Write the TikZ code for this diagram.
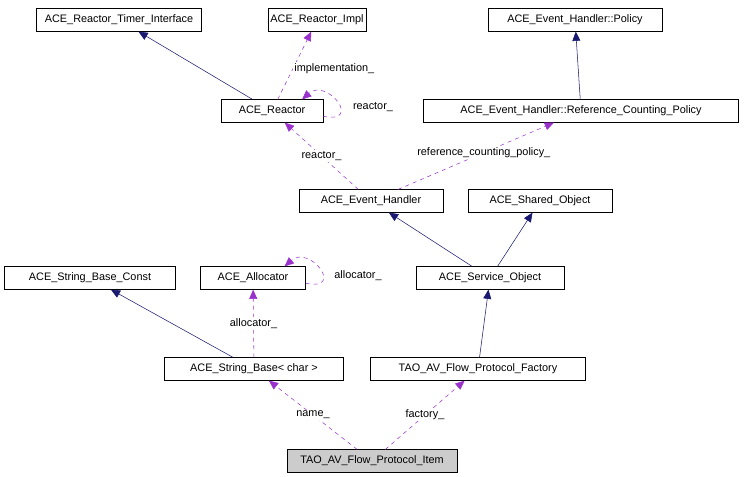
\documentclass[tikz,border=0pt]{standalone}
\usepackage{fontspec}
\setmainfont{Liberation Sans}
\usetikzlibrary{arrows.meta}
\definecolor{inh}{RGB}{25,25,112}
\definecolor{use}{RGB}{153,50,204}
\begin{document}
\begin{tikzpicture}[x=0.0265cm, y=-0.0265cm,
    font=\fontsize{8.2}{9}\selectfont,
    every node/.style={draw, inner xsep=2pt, minimum height=0.6cm},
    w/.style={minimum width=#1*0.0265cm},
    inherit/.style={draw=inh, -{Triangle[length=7pt,width=6pt,fill=inh]}},
    uses/.style={draw=use, dashed, -{Triangle[length=7pt,width=6pt,fill=use]}},
    lbl/.style={draw=none, fill=white, inner sep=1pt, minimum height=0pt}]
    \useasboundingbox (0,0) rectangle (745,477);
    % Top row
    \node[w=165] (timer) at (119,20) {ACE\_Reactor\_Timer\_Interface};
    \node[w=93] (impl) at (317,20) {ACE\_Reactor\_Impl};
    \node[w=174] (policy) at (575,20) {ACE\_Event\_Handler::Policy};
    % Reactor level
    \node[w=102] (reactor) at (272,111) {ACE\_Reactor};
    \node[w=315] (refpol) at (581,111) {ACE\_Event\_Handler::Reference\_Counting\_Policy};
    % Handler level
    \node[w=144] (handler) at (371,201) {ACE\_Event\_Handler};
    \node[w=144] (shared) at (540,201) {ACE\_Shared\_Object};
    % Service level
    \node[w=171] (sconst) at (90,278) {ACE\_String\_Base\_Const};
    \node[w=105] (alloc) at (253,278) {ACE\_Allocator};
    \node[w=148] (service) at (490,278) {ACE\_Service\_Object};
    % Base level
    \node[w=179] (sbase) at (254,369) {ACE\_String\_Base< char >};
    \node[w=215] (factory) at (478,369) {TAO\_AV\_Flow\_Protocol\_Factory};
    % The item
    \node[w=170, fill=black!20] (item) at (372,461) {TAO\_AV\_Flow\_Protocol\_Item};

    % Inheritance
    \draw[inherit] (reactor) -- (timer);
    \draw[inherit] (refpol) -- (policy);
    \draw[inherit] (service) -- (handler);
    \draw[inherit] (service) -- (shared);
    \draw[inherit] (sbase) -- (sconst);
    \draw[inherit] (factory) -- (service);

    % Usage
    \draw[uses] (reactor) -- node[lbl, right, pos=0.45] {implementation\_} (impl);
    \draw[uses] ([yshift=-4pt]reactor.east) .. controls +(40,8) and +(25,-22) .. ([xshift=-16pt]reactor.north east);
    \node[lbl] (reactorlbl) at (373,107) {reactor\_};
    \draw[uses] (handler) -- node[lbl] {reactor\_} (reactor);
    \draw[uses] (handler) -- node[lbl, pos=0.55] {reference\_counting\_policy\_} (refpol);
    \draw[uses] (sbase) -- node[lbl] {allocator\_} (alloc);
    \draw[uses] ([yshift=-4pt]alloc.east) .. controls +(40,8) and +(25,-22) .. ([xshift=-16pt]alloc.north east);
    \node[lbl] (alloclbl) at (358,276) {allocator\_};
    \draw[uses] (item) -- node[lbl] {name\_} (sbase);
    \draw[uses] (item) -- node[lbl] {factory\_} (factory);
\end{tikzpicture}
\end{document}
